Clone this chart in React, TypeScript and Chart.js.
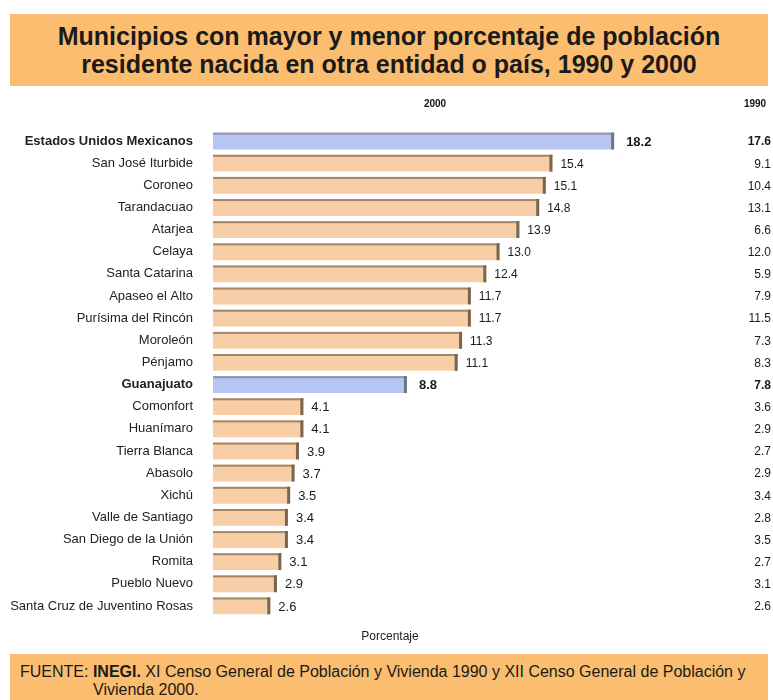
import React, { useEffect, useRef } from "react";
import { Chart, registerables } from "chart.js";

Chart.register(...registerables);

const categories = [
  "Estados Unidos Mexicanos",
  "San José Iturbide",
  "Coroneo",
  "Tarandacuao",
  "Atarjea",
  "Celaya",
  "Santa Catarina",
  "Apaseo el Alto",
  "Purísima del Rincón",
  "Moroleón",
  "Pénjamo",
  "Guanajuato",
  "Comonfort",
  "Huanímaro",
  "Tierra Blanca",
  "Abasolo",
  "Xichú",
  "Valle de Santiago",
  "San Diego de la Unión",
  "Romita",
  "Pueblo Nuevo",
  "Santa Cruz de Juventino Rosas",
];

const values2000 = [18.2, 15.4, 15.1, 14.8, 13.9, 13.0, 12.4, 11.7, 11.7, 11.3, 11.1, 8.8, 4.1, 4.1, 3.9, 3.7, 3.5, 3.4, 3.4, 3.1, 2.9, 2.6];
const values1990 = [17.6, 9.1, 10.4, 13.1, 6.6, 12.0, 5.9, 7.9, 11.5, 7.3, 8.3, 7.8, 3.6, 2.9, 2.7, 2.9, 3.4, 2.8, 3.5, 2.7, 3.1, 2.6];
const highlighted = ["Estados Unidos Mexicanos", "Guanajuato"];
const columnHeaders = ["2000", "1990"];
const axisTitle = "Porcentaje";
const titleLines = [
  "Municipios con mayor y menor porcentaje de población",
  "residente nacida en otra entidad o país, 1990 y 2000",
];
const sourceLines = [
  "XI Censo General de Población y Vivienda 1990 y XII Censo General de Población y",
  "Vivienda 2000.",
];

const FONT = "'Liberation Sans', Arial, sans-serif";

export default function App() {
  const ref = useRef<HTMLCanvasElement | null>(null);

  useEffect(() => {
    if (!ref.current) return;
    const isHi = (i: number) => highlighted.includes(categories[i]);

    const labelsPlugin = {
      id: "customLabels",
      afterDatasetsDraw(chart: any) {
        const { ctx } = chart;
        const meta = chart.getDatasetMeta(0);
        ctx.save();
        meta.data.forEach((bar: any, i: number) => {
          const hi = isHi(i);
          const top = bar.y - bar.height / 2;
          const left = bar.base;
          const right = bar.x;
          ctx.fillStyle = hi ? "#8E94A8" : "#A38667";
          ctx.fillRect(left, top, right - left, 2);
          ctx.fillStyle = hi ? "#6F7488" : "#7A6550";
          ctx.fillRect(right - 3, top, 3, bar.height);
        });
        ctx.textBaseline = "middle";
        meta.data.forEach((bar: any, i: number) => {
          const hi = isHi(i);
          const small = values2000[i] < 5;
          ctx.fillStyle = "#1a1a1a";
          ctx.textAlign = "left";
          ctx.font = `${hi ? "bold " : ""}${hi || small ? 13 : 12}px ${FONT}`;
          ctx.fillText(values2000[i].toFixed(1), bar.x + (hi ? 12 : 8), bar.y + 1);
          ctx.textAlign = "right";
          ctx.font = `${hi ? "bold " : ""}12px ${FONT}`;
          ctx.fillText(values1990[i].toFixed(1), 771, bar.y + 1);
        });
        ctx.font = `bold 10px ${FONT}`;
        ctx.textAlign = "center";
        ctx.fillStyle = "#111";
        ctx.fillText(columnHeaders[0], 435, 14);
        ctx.fillText(columnHeaders[1], 755, 14);
        ctx.font = `12px ${FONT}`;
        ctx.fillStyle = "#222";
        ctx.fillText(axisTitle, 390, 547);
        ctx.restore();
      },
    };

    const fallback = (hi: boolean) => (hi ? "#B8C4F4" : "#F8CEA6");

    const chart = new Chart(ref.current, {
      type: "bar",
      data: {
        labels: categories,
        datasets: [
          {
            data: values2000,
            backgroundColor: (c: any) => {
              const { chart: ch, dataIndex } = c;
              const hi = isHi(dataIndex);
              const el = ch.getDatasetMeta(0).data[dataIndex];
              if (!el || !Number.isFinite(el.y) || !Number.isFinite(el.height)) return fallback(hi);
              const t = el.y - el.height / 2;
              const b = el.y + el.height / 2;
              if (!Number.isFinite(t) || !Number.isFinite(b) || b <= t) return fallback(hi);
              const g = ch.ctx.createLinearGradient(0, t, 0, b);
              if (hi) {
                g.addColorStop(0, "#A9B6EA");
                g.addColorStop(0.5, "#BECAF6");
                g.addColorStop(1, "#B3C0F1");
              } else {
                g.addColorStop(0, "#F3C49A");
                g.addColorStop(0.5, "#FBD6B2");
                g.addColorStop(1, "#F6CBA2");
              }
              return g;
            },
            borderWidth: 0,
            barPercentage: 0.76,
            categoryPercentage: 1,
          },
        ],
      },
      options: {
        indexAxis: "y",
        animation: false,
        responsive: false,
        maintainAspectRatio: false,
        layout: { padding: { top: 40, bottom: 33, left: 0, right: 9 } },
        plugins: {
          legend: { display: false },
          tooltip: { enabled: false },
          title: { display: false },
        },
        scales: {
          x: {
            display: false,
            min: 0,
            max: 25,
          },
          y: {
            afterFit: (s: any) => {
              s.width = 213;
            },
            grid: { display: false, drawTicks: false },
            border: { display: false },
            ticks: {
              padding: 20,
              color: "#222",
              font: (c: any) => ({
                family: FONT,
                size: 13,
                weight: isHi(c.index) ? "bold" : "normal",
              }),
            },
          },
        },
      },
      plugins: [labelsPlugin],
    } as any);

    return () => chart.destroy();
  }, []);

  return (
    <div style={{ position: "absolute", left: 0, top: 0, width: 773, height: 700, background: "#fff", overflow: "hidden", fontFamily: FONT }}>
      <div
        style={{
          position: "absolute",
          left: 10,
          top: 14,
          width: 758,
          height: 72,
          background: "#FBBD70",
          display: "flex",
          flexDirection: "column",
          justifyContent: "center",
          alignItems: "center",
          fontWeight: "bold",
          fontSize: 25,
          lineHeight: "28px",
          color: "#1a1a1a",
        }}
      >
        {titleLines.map((l) => (
          <div key={l}>{l}</div>
        ))}
      </div>
      <canvas ref={ref} width={773} height={560} style={{ position: "absolute", left: 0, top: 90, width: 773, height: 560 }} />
      <div
        style={{
          position: "absolute",
          left: 10,
          top: 654,
          width: 758,
          height: 46,
          background: "#FBBD70",
          fontSize: 16,
          lineHeight: "18px",
          color: "#1a1a1a",
          boxSizing: "border-box",
          paddingTop: 9,
          paddingLeft: 10,
          whiteSpace: "nowrap",
        }}
      >
        <div>
          FUENTE: <b>INEGI.</b> {sourceLines[0]}
        </div>
        <div style={{ paddingLeft: 73 }}>{sourceLines[1]}</div>
      </div>
    </div>
  );
}
